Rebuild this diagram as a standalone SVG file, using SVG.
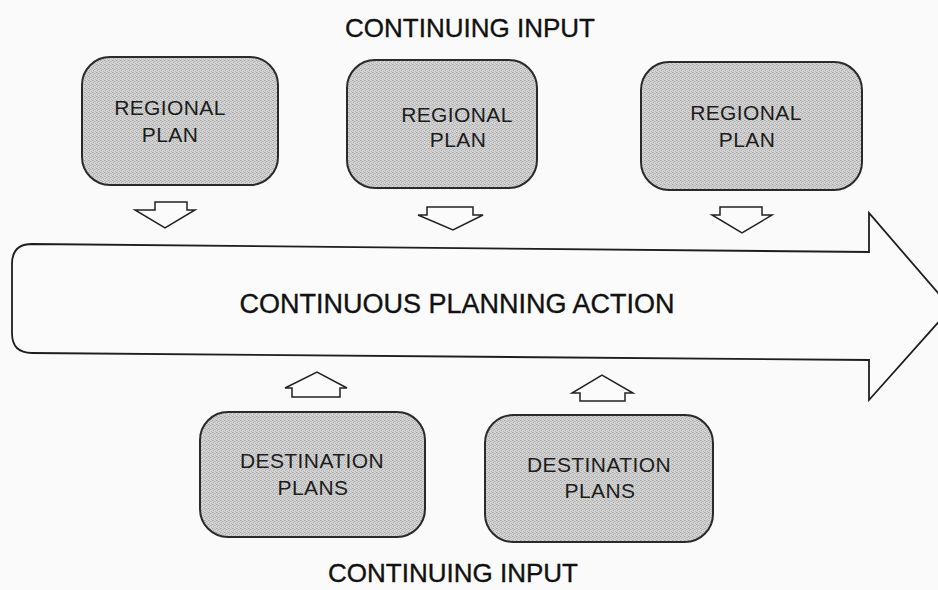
<svg xmlns="http://www.w3.org/2000/svg" width="938" height="590" viewBox="0 0 938 590">
<defs>
<pattern id="stip" width="4" height="4" patternUnits="userSpaceOnUse">
<rect width="4" height="4" fill="#d4d4d4"/>
<rect x="0" y="0" width="1" height="1" fill="#a4a4a4"/>
<rect x="2" y="1" width="1" height="1" fill="#b2b2b2"/>
<rect x="1" y="2" width="1" height="1" fill="#a8a8a8"/>
<rect x="3" y="3" width="1" height="1" fill="#b6b6b6"/>
<rect x="3" y="1" width="1" height="1" fill="#c0c0c0"/>
<rect x="1" y="0" width="1" height="1" fill="#bdbdbd"/>
</pattern>
</defs>
<style>
.box{fill:url(#stip);stroke:#2a2a2a;stroke-width:2}
.arr{fill:#fbfbfb;stroke:#222;stroke-width:1.5;stroke-linejoin:miter}
.big{fill:#fbfbfb;stroke:#1e1e1e;stroke-width:1.8}
.lbl{font-family:"Liberation Sans",Arial,sans-serif;font-size:21px;fill:#1c1c1c;text-anchor:middle;letter-spacing:0.4px}
.ttl{font-family:"Liberation Sans",Arial,sans-serif;font-size:26px;fill:#111;stroke:#111;stroke-width:0.35;text-anchor:middle}
</style>
<rect width="938" height="590" fill="#fafafa"/>
<text class="ttl" x="470" y="37">CONTINUING INPUT</text>
<text class="ttl" x="453" y="582">CONTINUING INPUT</text>
<g id="regional1">
<rect class="box" x="82" y="57" width="196" height="128" rx="28"/>
<text class="lbl" x="170" y="115">REGIONAL</text>
<text class="lbl" x="170" y="142">PLAN</text>
</g>
<g id="regional2">
<rect class="box" x="347" y="60" width="190" height="128" rx="28"/>
<text class="lbl" x="457" y="122">REGIONAL</text>
<text class="lbl" x="458" y="147">PLAN</text>
</g>
<g id="regional3">
<rect class="box" x="641" y="62" width="221" height="128" rx="28"/>
<text class="lbl" x="746" y="120">REGIONAL</text>
<text class="lbl" x="747" y="147">PLAN</text>
</g>
<g id="destination1">
<rect class="box" x="200" y="412" width="225" height="125" rx="28"/>
<text class="lbl" x="312" y="468">DESTINATION</text>
<text class="lbl" x="313" y="495">PLANS</text>
</g>
<g id="destination2">
<rect class="box" x="485" y="415" width="228" height="127" rx="28"/>
<text class="lbl" x="599" y="472">DESTINATION</text>
<text class="lbl" x="600" y="498">PLANS</text>
</g>
<g id="action">
<path class="big" d="M32,244 L869,252 L869,213 L951,308 L869,400 L869,360 L32,353 Q12,353 12,333 L12,264 Q12,244 32,244 Z"/>
<text class="ttl" x="457" y="313" style="font-size:27px">CONTINUOUS PLANNING ACTION</text>
</g>
<g id="connectors">
<path class="arr" d="M155,202 L187,202 L187,210 L195,210 L165,228 L135,210 L155,210 Z"/>
<path class="arr" d="M427,207 L473,207 L473,215 L483,215 L453,230 L418,215 L427,215 Z"/>
<path class="arr" d="M720,207 L762,207 L762,215 L772,215 L742,233 L712,215 L720,215 Z"/>
<path class="arr" d="M292,397 L340,397 L340,388 L347,388 L317,372 L285,388 L292,388 Z"/>
<path class="arr" d="M580,401 L625,401 L625,393 L633,393 L602,375 L572,393 L580,393 Z"/>
</g>
</svg>
